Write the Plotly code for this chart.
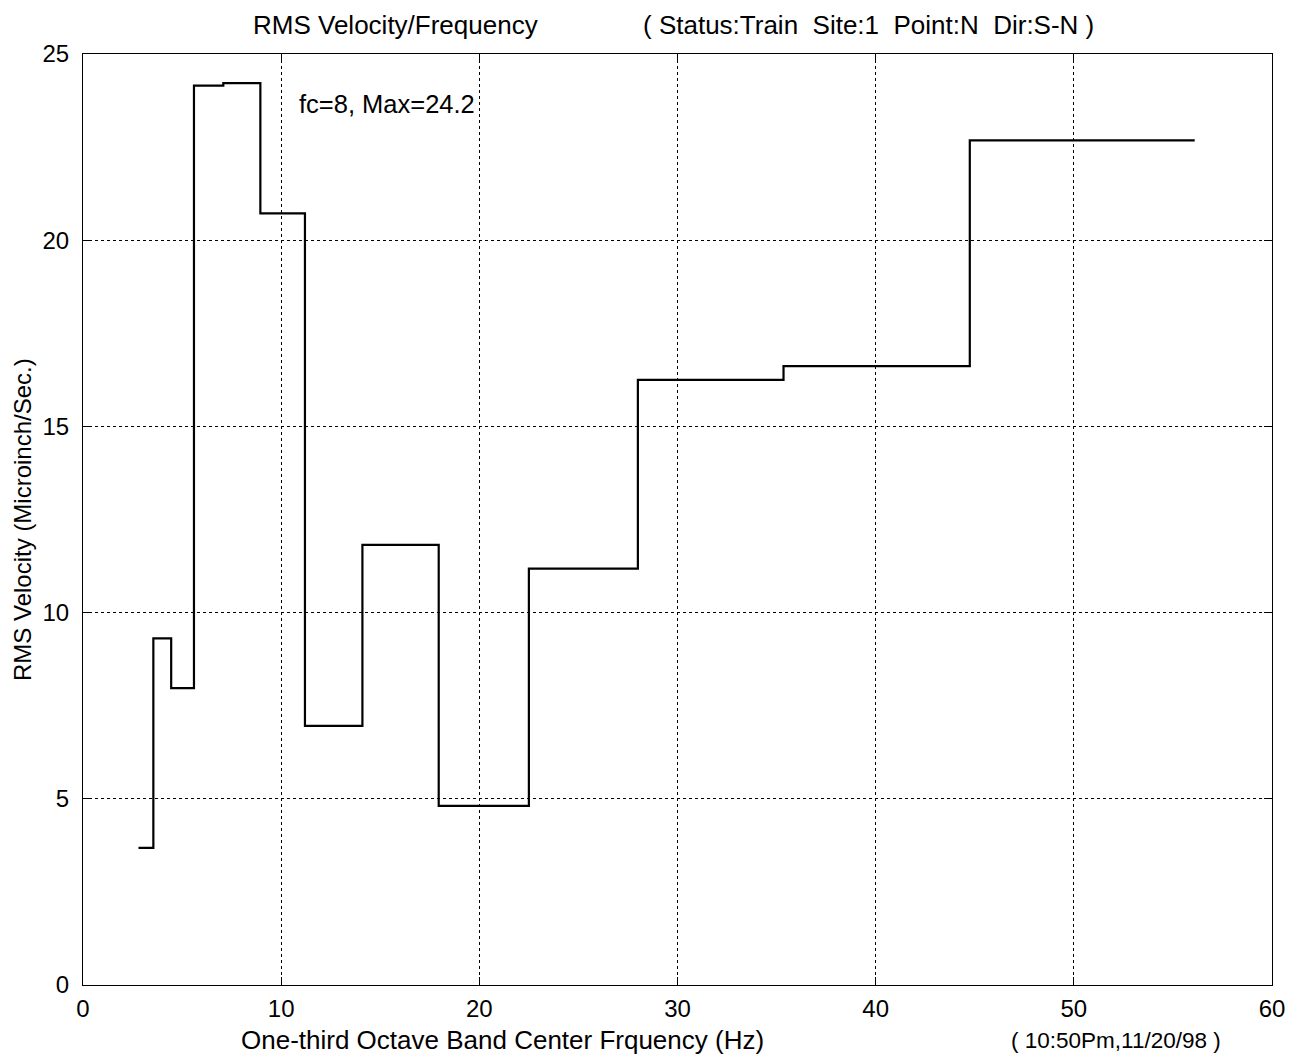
import plotly.graph_objects as go

# One-third octave band edges (Hz) and RMS velocity per band
band_edges = [2.8, 3.55, 4.45, 5.6, 7.08, 8.95, 11.2, 14.1, 17.95, 22.5, 28.0, 35.35, 44.75, 56.1]
center_freqs = [3.15, 4, 5, 6.3, 8, 10, 12.5, 16, 20, 25, 31.5, 40, 50]
rms_velocity = [3.68, 9.31, 7.97, 24.15, 24.22, 20.72, 6.96, 11.82, 4.81, 11.18, 16.25, 16.62, 22.68]

x_ticks = [0, 10, 20, 30, 40, 50, 60]
y_ticks = [0, 5, 10, 15, 20, 25]

xs = band_edges
ys = rms_velocity + [rms_velocity[-1]]

FONT = "Liberation Sans, Arial, sans-serif"

L, R, T, B = 83, 1272, 54, 985
W, H = R - L, B - T

fig = go.Figure()
fig.add_trace(go.Scatter(x=xs, y=ys, mode="lines", line=dict(color="black", width=2.2, shape="hv"),
                         showlegend=False, hoverinfo="skip"))

axis_common = dict(
    showline=True, linecolor="black", linewidth=1, mirror="ticks",
    ticks="inside", ticklen=8, tickcolor="black",
    showgrid=True, gridcolor="black", gridwidth=1, griddash="dot",
    zeroline=False, tickfont=dict(family=FONT, size=24, color="black"),
)

fig.update_xaxes(range=[0, 60], tickvals=x_ticks, ticklabelstandoff=2, **axis_common)
fig.update_yaxes(range=[0, 25], tickvals=y_ticks, ticklabelstandoff=8, **axis_common)

ann = [
    dict(text="RMS Velocity/Frequency", x=395, y=25, size=26),
    dict(text="( Status:Train  Site:1  Point:N  Dir:S-N )", x=868, y=25, size=26),
    dict(text="One-third Octave Band Center Frquency (Hz)", x=502, y=1040, size=26),
    dict(text="( 10:50Pm,11/20/98 )", x=1116, y=1040, size=22.5),
]
annotations = []
for a in ann:
    annotations.append(dict(text=a["text"], xref="paper", yref="paper",
                            x=(a["x"] - L) / W, y=(B - a["y"]) / H,
                            xanchor="center", yanchor="middle", showarrow=False,
                            font=dict(family=FONT, size=a["size"], color="black")))
annotations.append(dict(text="RMS Velocity (Microinch/Sec.)", xref="paper", yref="paper",
                        x=(22 - L) / W, y=(B - 520) / H, textangle=-90,
                        xanchor="center", yanchor="middle", showarrow=False,
                        font=dict(family=FONT, size=24, color="black")))
annotations.append(dict(text="fc=8, Max=24.2", xref="x", yref="y", x=10.8, y=23.65,
                        xanchor="left", yanchor="middle", showarrow=False,
                        font=dict(family=FONT, size=25.5, color="black")))

fig.update_layout(
    width=1308, height=1059,
    margin=dict(l=L, r=1308 - R, t=T, b=1059 - B),
    plot_bgcolor="white", paper_bgcolor="white",
    annotations=annotations,
)

fig.write_html("out.html")
